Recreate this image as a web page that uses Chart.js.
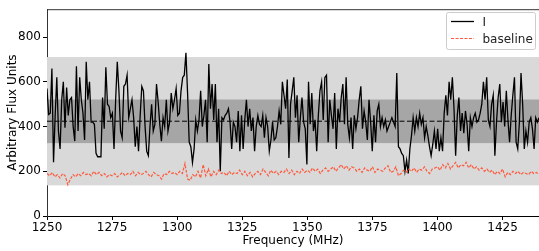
<!DOCTYPE html>
<html>
<head>
<meta charset="utf-8">
<script src="https://cdn.jsdelivr.net/npm/chart.js@4/dist/chart.umd.min.js"></script>
<style>
  body { margin: 0; background: #fff; }
  #wrap { width: 539px; height: 251px; }
</style>
</head>
<body>
<div id="wrap"><canvas id="fluxChart" width="539" height="251"></canvas></div>
<script>
// frequency range (MHz)
const freqMin = 1250;
const freqMax = 1439;
const xTicks = [1250, 1275, 1300, 1325, 1350, 1375, 1400, 1425];
const yTicks = [0, 200, 400, 600, 800];
const yMax = 925;

// Stokes I, evenly spaced over the band
const fluxI = [
  570,454,460,660,240,450,620,380,300,520,600,395,575,450,520,530,400,335,670,380,620,520,460,340,690,520,600,420,
  420,410,280,265,265,265,530,390,665,500,490,440,460,300,520,690,560,380,350,580,590,630,440,480,520,440,310,400,
  290,450,580,560,400,290,270,400,500,380,410,590,510,410,335,440,400,520,380,420,550,480,520,570,450,460,560,620,
  630,730,550,330,310,240,300,430,380,430,560,400,450,520,330,680,480,590,430,590,330,480,200,440,430,450,460,480,
  420,300,420,400,330,470,290,450,300,430,520,400,480,380,440,290,400,450,410,400,450,350,440,400,290,340,420,340,
  350,400,470,410,600,540,480,610,260,500,560,620,440,540,330,440,530,420,390,230,600,410,550,380,430,290,450,560,
  600,430,620,630,330,520,450,390,550,300,480,420,530,590,410,620,410,350,440,300,450,390,440,520,580,390,470,420,
  340,520,420,290,450,330,470,500,400,440,400,430,380,400,420,440,420,400,640,310,300,280,270,200,250,190,300,360,
  440,380,440,400,460,410,440,350,400,360,310,270,320,380,300,390,290,350,290,460,540,450,600,520,620,480,270,450,
  530,380,460,370,470,410,290,440,400,440,460,420,430,460,500,600,520,620,430,400,500,540,270,420,530,590,420,510,
  400,560,430,330,450,540,620,330,300,420,640,500,300,380,330,420,440,390,300,440,420,440
];

// baseline, one value per MHz from 1250
const baseline = [
  190,180,195,175,185,170,190,180,140,165,
  185,175,190,180,195,185,190,180,200,185,
  195,180,190,175,185,180,190,175,185,195,
  180,190,185,200,180,195,185,190,200,185,
  175,195,185,180,165,190,185,200,190,195,
  185,200,190,235,165,160,185,175,200,170,
  230,180,210,175,200,185,205,190,195,180,
  200,185,195,190,205,185,200,180,195,175,
  190,200,185,210,195,180,205,190,200,185,
  200,195,210,190,205,185,200,190,210,195,
  205,195,215,200,210,190,205,215,200,210,
  220,200,215,230,210,225,205,220,215,200,
  210,195,215,205,200,220,195,210,205,200,
  215,225,195,200,220,180,190,205,195,210,
  200,215,195,210,205,220,200,190,210,215,
  220,205,230,215,235,210,225,240,215,230,
  225,240,215,230,210,220,205,215,200,210,
  195,205,185,200,190,210,175,195,185,200,
  190,200,185,195,190,185,200,190,195,185
];

const meanLevel = 424;
// shaded ranges
const outerBand = [137, 711];
const innerBand = [326, 521];

const FONT = { family: 'DejaVu Sans', size: 12 };

const iStep = (freqMax - freqMin) / (fluxI.length - 1);
const iPoints = fluxI.map((v, i) => ({ x: freqMin + i * iStep, y: v }));
const basePoints = baseline.map((v, i) => ({ x: freqMin + i, y: v }));

// grey bands behind the data
const bandPlugin = {
  id: 'bands',
  beforeDatasetsDraw(chart) {
    const { ctx, chartArea, scales } = chart;
    const y = scales.y;
    ctx.save();
    ctx.fillStyle = '#d9d9d9';
    ctx.fillRect(chartArea.left, y.getPixelForValue(outerBand[1]), chartArea.right - chartArea.left,
      y.getPixelForValue(outerBand[0]) - y.getPixelForValue(outerBand[1]));
    ctx.fillStyle = '#a6a6a6';
    ctx.fillRect(chartArea.left, y.getPixelForValue(innerBand[1]), chartArea.right - chartArea.left,
      y.getPixelForValue(innerBand[0]) - y.getPixelForValue(innerBand[1]));
    ctx.restore();
  }
};

// top spine + matplotlib-like legend box
const framePlugin = {
  id: 'frame',
  afterDraw(chart) {
    const { ctx, chartArea } = chart;
    ctx.save();
    ctx.strokeStyle = '#333';
    ctx.lineWidth = 1;
    ctx.beginPath();
    ctx.moveTo(chartArea.left, chartArea.top + 0.5);
    ctx.lineTo(chartArea.right, chartArea.top + 0.5);
    ctx.stroke();

    const bx = chartArea.right - 92.5, by = 12.5, bw = 89, bh = 37;
    ctx.fillStyle = 'rgba(255,255,255,0.85)';
    ctx.strokeStyle = '#cccccc';
    ctx.beginPath();
    ctx.roundRect(bx, by, bw, bh, 2);
    ctx.fill();
    ctx.stroke();

    const items = chart.data.datasets.filter(d => d.inLegend);
    items.forEach((d, i) => {
      const ly = by + 9 + i * 17;
      ctx.strokeStyle = d.borderColor;
      ctx.lineWidth = d.borderWidth;
      ctx.setLineDash(d.borderDash || []);
      ctx.beginPath();
      ctx.moveTo(bx + 4.5, ly);
      ctx.lineTo(bx + 27.5, ly);
      ctx.stroke();
      ctx.setLineDash([]);
      ctx.fillStyle = '#222';
      ctx.font = '12px "DejaVu Sans"';
      ctx.textBaseline = 'middle';
      ctx.fillText(d.label, bx + 36, ly + 1);
    });
    ctx.restore();
  }
};

new Chart(document.getElementById('fluxChart').getContext('2d'), {
  type: 'line',
  data: {
    datasets: [
      {
        label: 'mean',
        data: [{ x: freqMin, y: meanLevel }, { x: freqMax, y: meanLevel }],
        borderColor: '#000',
        borderWidth: 1,
        borderDash: [5, 2.5],
        pointRadius: 0,
        order: 3
      },
      {
        label: 'I',
        inLegend: true,
        data: iPoints,
        borderColor: '#000',
        borderWidth: 1.3,
        pointRadius: 0,
        tension: 0,
        order: 2
      },
      {
        label: 'baseline',
        inLegend: true,
        data: basePoints,
        borderColor: '#ff5a3c',
        borderWidth: 1.2,
        borderDash: [3, 1.5],
        pointRadius: 0,
        tension: 0,
        order: 1
      }
    ]
  },
  options: {
    responsive: false,
    animation: false,
    devicePixelRatio: 1,
    layout: { padding: { top: 6, right: 0, left: 0, bottom: 0 } },
    plugins: { legend: { display: false }, tooltip: { enabled: false } },
    scales: {
      x: {
        type: 'linear',
        min: freqMin,
        max: freqMax,
        afterBuildTicks: s => { s.ticks = xTicks.map(v => ({ value: v })); },
        afterFit: s => { s.height = 35; },
        ticks: { font: FONT, color: '#000', padding: 1, maxRotation: 0, callback: v => String(v) },
        grid: { display: true, drawOnChartArea: false, tickLength: 4, color: '#000' },
        border: { color: '#000', width: 1 },
        title: { display: true, text: 'Frequency (MHz)', font: FONT, color: '#000', padding: { top: 0, bottom: 3 } }
      },
      y: {
        min: 0,
        max: yMax,
        afterBuildTicks: s => { s.ticks = yTicks.map(v => ({ value: v })); },
        afterFit: s => { s.width = 47; },
        ticks: { font: FONT, color: '#000', padding: 2, callback: v => String(v) },
        grid: { display: true, drawOnChartArea: false, tickLength: 4, color: '#000' },
        border: { color: '#333', width: 1 },
        title: { display: true, text: 'Arbitrary Flux Units', font: FONT, color: '#000', padding: { top: 6, bottom: 0 } }
      }
    }
  },
  plugins: [bandPlugin, framePlugin]
});
</script>
</body>
</html>
